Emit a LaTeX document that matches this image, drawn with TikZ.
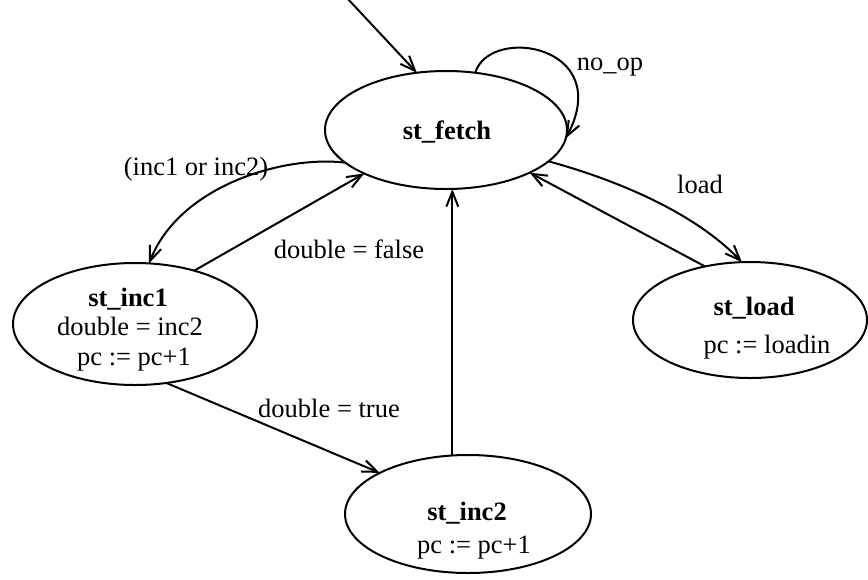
\documentclass[tikz,border=0pt]{standalone}
\usepackage{fontspec}
\setmainfont{Liberation Serif}
\usetikzlibrary{shapes.geometric,arrows.meta}
\begin{document}
\begin{tikzpicture}[x=0.5pt,y=-0.5pt,
  state/.style={draw,ellipse,line width=1pt,inner sep=0pt,outer sep=0pt},
  txt/.style={anchor=base,inner sep=0pt,font=\fontsize{13.25}{16}\selectfont},
  sname/.style={anchor=base,inner sep=0pt,font=\fontsize{13.25}{16}\selectfont\bfseries},
  trans/.style={line width=1pt,-{Straight Barb[length=7.5pt,width=6pt,line width=1pt]}}
]
\useasboundingbox (0,0) rectangle (868,579);

% states
\node[state,minimum width=121pt,minimum height=59pt] (fetch) at (446,130) {};
\node[state,minimum width=122pt,minimum height=61pt] (inc1) at (135,324) {};
\node[state,minimum width=123pt,minimum height=59pt] (inc2) at (468,514) {};
\node[state,minimum width=117pt,minimum height=58pt] (load) at (750,320) {};

% state contents
\node[sname] (fetchname) at (447,139) {st\_fetch};
\node[sname] (inc1name) at (128,306) {st\_inc1};
\node[txt] (inc1a) at (130,335) {double = inc2};
\node[txt] (inc1b) at (134,365) {pc := pc+1};
\node[sname] (loadname) at (754,315) {st\_load};
\node[txt] (loada) at (767,353) {pc := loadin};
\node[sname] (inc2name) at (467,520) {st\_inc2};
\node[txt] (inc2a) at (474,553) {pc := pc+1};

% transition labels
\node[txt] (lnoop) at (610,70) {no\_op};
\node[txt] (linc) at (196,175) {(inc1 or inc2)};
\node[txt] (lfalse) at (349,258) {double = false};
\node[txt] (ltrue) at (329,417) {double = true};
\node[txt] (lload) at (700,193) {load};

% transitions
\coordinate (start) at (347,-2);
\draw[trans] (start) -- (fetch.117);
\draw[trans] (fetch.63) .. controls (490,25) and (615,45) .. (fetch.356);
\draw[trans] (fetch.198) .. controls (285,155) and (180,185) .. (inc1.77);
\draw[trans] (inc1.42) -- (fetch.208);
\draw[trans] (inc1.298) -- (inc2.155);
\draw[trans] (inc2.105) -- (inc2.105 |- fetch.south);
\draw[trans] (fetch.343) .. controls (610,178) and (692,210) .. (load.98);
\draw[trans] (load.130) -- (fetch.333);
\end{tikzpicture}
\end{document}
